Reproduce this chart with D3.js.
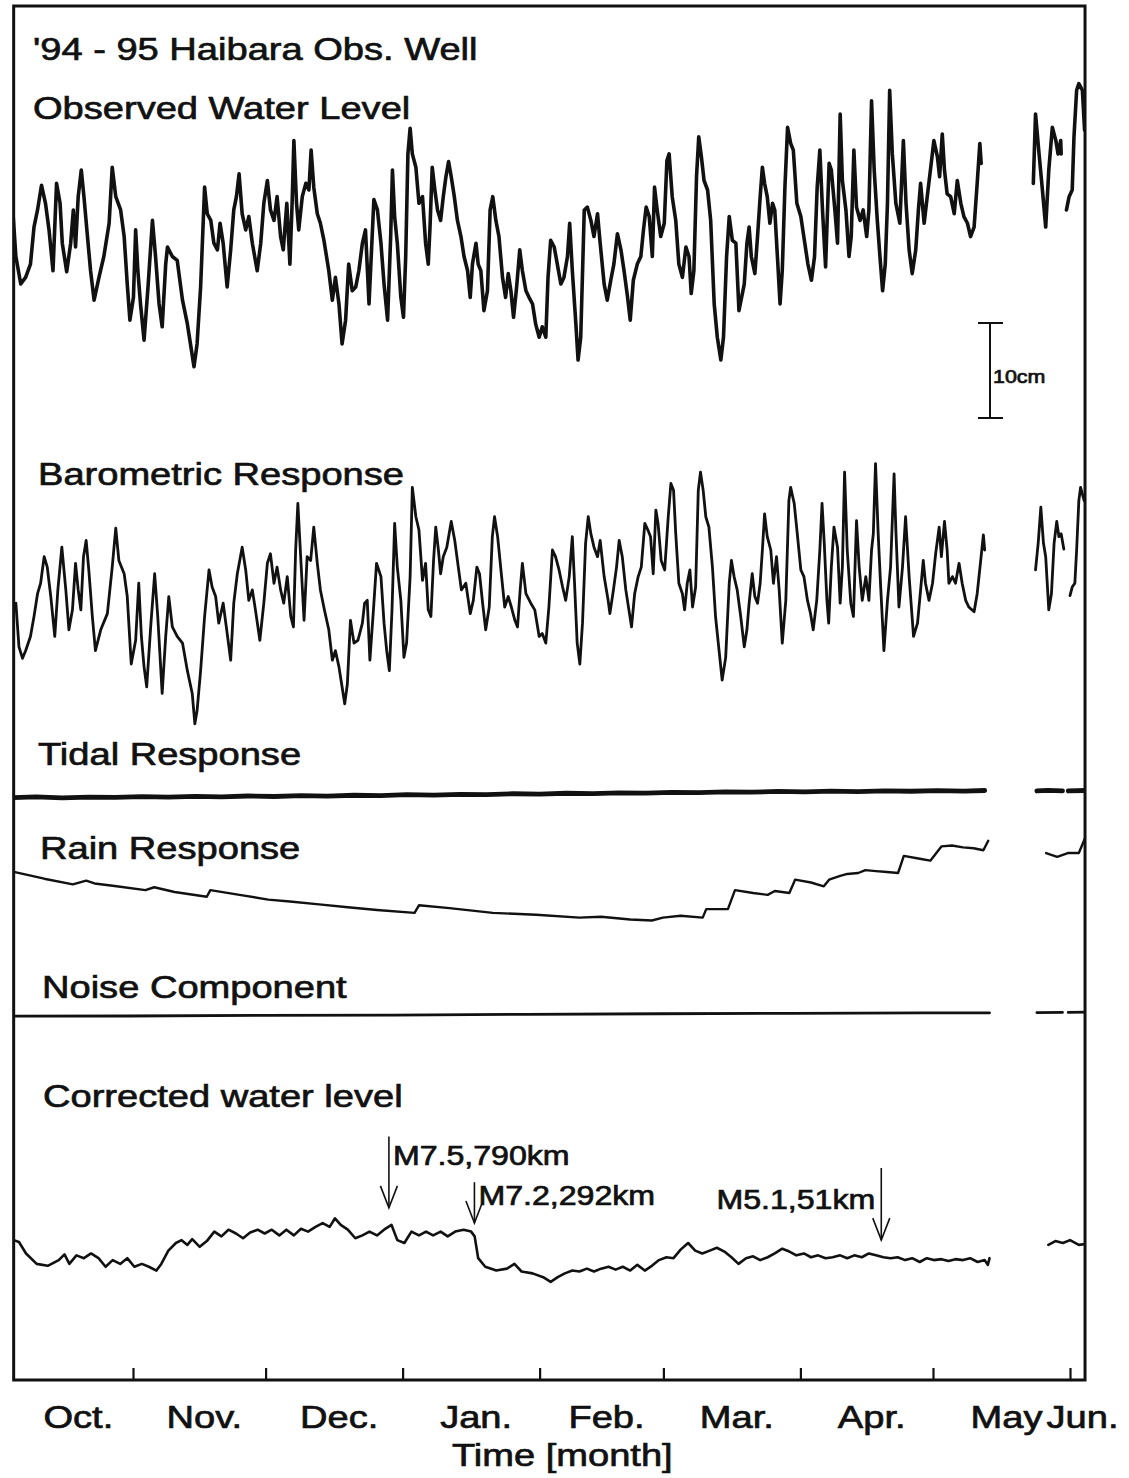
<!DOCTYPE html>
<meta charset="utf-8">
<head>
  <script src="https://d3js.org/d3.v7.min.js"></script>
  <style>
    body {
      margin: 0;
      background: #fff;
    }

    text {
      font-family: "Liberation Sans", Arial, Helvetica, sans-serif;
      fill: #111;
      stroke: #111;
      stroke-width: 0.7px;
    }

    .trace {
      fill: none;
      stroke: #111;
      stroke-linejoin: round;
      stroke-linecap: round;
    }
  </style>
</head>

<body>
  <script>
    // every series: [days after 1 Oct 1994, level in cm]; null = gap in the record
    var observed = [[3.7,18.6],[4.5,13.0],[5.6,10.1],[6.7,10.8],[7.8,12.2],[8.6,16.1],[9.4,17.9],[10.3,20.5],[11.2,18.6],[12.0,15.8],[12.9,11.5],[13.7,20.7],[14.5,18.6],[15.0,14.4],[16.0,11.4],[16.9,14.4],[17.5,17.9],[18.0,14.0],[18.6,19.3],[19.3,22.1],[19.9,19.3],[20.7,15.1],[21.4,11.5],[22.2,8.4],[23.3,10.8],[24.4,13.0],[25.6,16.5],[26.3,22.4],[27.1,19.3],[28.2,17.9],[29.0,15.1],[29.7,10.1],[30.3,6.3],[31.1,8.7],[31.6,15.8],[32.1,11.5],[32.7,8.0],[33.5,4.2],[34.4,9.8],[35.4,16.8],[36.1,13.0],[36.9,8.0],[37.6,5.6],[38.4,12.2],[38.8,14.0],[39.9,13.0],[41.0,12.6],[42.2,8.4],[43.3,5.9],[44.0,3.8],[44.8,1.4],[45.5,3.8],[46.3,9.8],[47.2,20.3],[47.8,17.5],[48.6,16.8],[49.3,14.4],[50.1,13.7],[50.7,16.5],[51.4,14.4],[52.3,9.8],[53.1,13.7],[53.8,17.9],[54.4,19.3],[55.0,21.7],[55.7,17.5],[56.5,15.8],[57.2,17.2],[58.0,14.4],[59.1,11.5],[59.9,14.4],[60.6,18.6],[61.4,21.0],[62.1,17.9],[62.9,16.8],[63.6,19.3],[64.4,15.1],[65.0,13.7],[65.8,18.6],[66.5,12.2],[67.0,18.6],[67.4,25.2],[68.0,18.6],[68.5,15.8],[69.3,19.3],[70.1,20.7],[70.8,20.0],[71.3,24.2],[71.9,20.3],[72.7,17.5],[73.4,16.5],[74.2,14.7],[75.3,11.5],[76.1,8.4],[76.8,10.8],[77.6,8.0],[78.3,3.8],[79.1,6.3],[79.8,12.2],[80.6,9.4],[81.4,9.8],[82.1,11.5],[82.9,14.4],[83.6,15.8],[84.4,8.0],[84.9,13.0],[85.5,19.0],
      [86.3,17.9],[87.1,14.4],[87.8,10.1],[88.6,6.3],[89.3,15.1],[89.7,22.1],[90.2,17.2],[90.8,14.4],[91.6,8.7],[92.2,6.6],[92.7,13.0],[93.2,23.8],[93.7,26.5],[94.2,23.8],[95.0,22.4],[95.7,18.6],[96.5,19.3],[97.2,14.4],[97.8,12.2],[98.2,16.1],[98.7,22.4],[99.3,20.0],[99.9,17.9],[100.6,16.8],[101.2,19.3],[101.8,21.4],[102.4,23.0],[103.0,21.4],[103.7,19.3],[104.4,16.8],[105.2,15.1],[105.9,13.0],[106.7,11.5],[107.3,8.7],[107.8,12.2],[108.6,14.4],[109.1,12.2],[109.7,11.5],[110.4,7.3],[111.2,9.4],[111.8,17.9],[112.4,19.3],[113.1,16.8],[113.8,15.1],[114.6,10.8],[115.3,8.7],[115.9,11.2],[116.5,9.4],[117.1,6.6],[117.8,9.8],[118.5,13.7],[119.1,11.5],[119.9,9.4],[120.6,8.7],[121.4,8.0],[122.1,5.9],[122.9,4.5],[123.6,5.6],[124.4,4.5],[124.9,10.8],[125.5,14.7],[126.3,14.0],[127.0,12.2],[127.8,10.1],[128.5,10.8],[129.3,13.0],[129.8,16.5],[130.4,11.5],[131.2,5.9],[131.7,2.1],[132.3,4.5],[133.1,17.9],[133.8,18.2],[134.6,16.8],[135.3,15.1],[136.1,17.5],[136.7,14.4],[137.6,10.1],[138.3,8.4],[139.1,10.5],[139.8,12.2],[140.6,15.4],[141.4,13.7],[142.1,11.5],[142.9,8.7],[143.5,6.3],[144.2,10.5],[145.1,12.2],[145.9,13.0],[146.5,15.8],[147.1,18.2],[147.8,17.2],[148.5,13.0],[149.0,20.3],[149.6,17.9],[150.4,15.1],[151.2,16.5],[151.8,23.1],[152.3,23.8],[153.0,19.3],[153.8,16.8],[154.5,12.2],[155.3,10.8],[156.1,14.0],[156.8,13.0],[157.3,9.1],[157.9,11.5],[158.5,21.4],[159.0,25.6],[159.6,23.5],[160.2,21.0],[161.0,20.0],[161.7,16.8],[162.5,8.0],[163.2,4.5],[164.0,2.1],[164.6,4.5],[165.3,13.0],[165.9,17.2],[166.6,14.7],[167.4,14.4],[168.1,7.3],
      [169.3,10.1],[169.9,14.4],[170.4,16.1],[170.9,13.0],[171.7,11.2],[172.3,15.1],[172.9,19.3],[173.4,22.4],[173.9,20.7],[174.5,19.3],[175.1,16.5],[175.7,18.6],[176.2,17.9],[176.8,13.0],[177.4,8.0],[177.9,11.5],[178.5,20.3],[179.1,26.6],[179.8,24.9],[180.4,24.2],[181.2,18.6],[182.1,17.2],[183.0,14.4],[183.7,12.2],[184.5,10.5],[185.2,13.0],[185.8,20.3],[186.4,24.2],[187.0,17.9],[187.7,11.9],[188.5,22.8],[189.0,22.1],[189.8,17.9],[190.4,14.4],[191.0,28.0],[191.5,21.0],[192.3,17.9],[193.0,13.0],[193.5,15.1],[194.1,24.2],[194.7,18.2],[195.5,16.8],[196.2,17.9],[197.0,15.1],[197.5,17.9],[198.1,29.4],[198.7,22.1],[199.4,16.8],[200.0,13.0],[200.6,9.4],[201.2,12.2],[201.7,18.6],[202.2,30.5],[202.8,23.8],[203.6,18.6],[204.5,16.5],[205.3,25.2],[205.9,18.6],[206.6,13.7],[207.3,11.2],[208.1,13.7],[208.7,17.9],[209.2,20.7],[210.0,16.5],[210.7,19.3],[211.6,22.8],[212.2,25.2],[213.0,23.5],[213.5,21.4],[214.1,25.9],[214.6,22.1],[215.2,19.6],[216.0,19.3],[216.8,17.5],[217.5,21.0],[218.3,18.6],[219.0,17.2],[219.8,16.5],[220.5,15.1],[221.3,16.1],[222.0,20.7],[222.6,24.9],[222.9,22.8], null,
      [234.7,20.7],[235.2,28.0],[236.0,23.8],[236.7,20.3],[237.5,16.1],[238.2,22.1],[239.0,26.6],[239.8,25.2],[240.3,23.8],[240.9,25.2],[241.0,23.8], null,
      [242.2,17.9],[242.8,19.3],[243.5,20.0],[243.9,25.6],[244.5,30.5],[245.0,31.2],[245.8,30.5],[246.3,26.3]];

    var barometric = [[4.5,14.4],[5.2,9.8],[6.0,8.6],[6.7,9.4],[7.8,10.9],[8.6,13.0],[9.4,15.4],[10.1,16.5],[10.9,19.3],[11.6,18.2],[12.4,15.1],[13.3,10.9],[14.0,15.8],[14.9,20.3],[15.8,15.8],[16.5,11.6],[17.3,13.7],[18.0,18.6],[18.6,15.8],[19.2,13.7],[19.8,19.3],[20.4,21.0],[21.0,17.9],[21.8,13.0],[22.5,9.4],[23.7,11.6],[25.2,13.3],[26.3,18.2],[27.1,22.3],[27.8,18.9],[29.0,17.5],[29.7,15.1],[30.6,8.0],[31.6,10.5],[32.3,16.5],[32.9,10.9],[33.5,7.7],[34.1,5.6],[35.0,11.9],[35.9,17.5],[36.6,13.0],[37.6,4.9],[38.4,10.9],[39.1,15.1],[39.9,11.9],[41.0,10.9],[42.2,10.2],[43.3,7.3],[44.4,4.9],[45.0,1.7],[45.5,3.1],[46.3,7.3],[47.2,13.0],[48.2,17.9],[48.9,16.1],[49.7,15.1],[50.4,12.3],[51.4,14.4],[52.2,11.6],[53.1,8.4],[53.8,14.4],[54.6,17.5],[55.7,20.3],[56.5,17.9],[57.2,14.7],[58.0,15.8],[58.7,13.7],[59.7,10.5],[60.6,14.4],[61.4,18.6],[62.1,19.6],[62.9,16.5],[63.6,18.2],[64.4,15.8],[65.1,14.4],[65.9,17.2],[66.7,13.0],[67.3,11.9],[67.8,20.0],[68.3,24.9],[68.9,19.6],[69.7,12.6],[70.4,19.3],[71.2,18.9],[71.9,22.4],[72.7,18.6],[73.4,15.8],[74.3,13.7],[75.3,11.6],[76.1,8.4],[76.8,9.4],[77.6,7.7],[78.3,5.6],[78.9,3.8],[79.5,5.9],[80.2,12.6],[81.0,10.2],[81.9,10.5],[82.9,12.3],[83.4,14.4],[84.0,14.7],[84.6,8.4],[85.4,13.7],[86.1,18.6],
      [87.1,17.2],[87.8,12.3],[88.4,9.4],[89.0,7.3],[89.6,13.7],[90.2,22.8],[90.8,18.2],[91.6,14.7],[92.3,8.7],[92.9,10.2],[93.7,17.2],[94.2,26.6],[95.0,23.5],[95.7,22.1],[96.5,16.8],[97.2,18.6],[97.8,13.7],[98.4,13.0],[99.0,18.9],[99.5,22.4],[100.1,20.0],[100.6,17.5],[101.2,19.3],[102.0,20.3],[103.0,23.0],[103.8,21.0],[104.6,18.2],[105.3,15.8],[106.3,16.5],[107.3,13.3],[108.0,14.7],[108.8,18.2],[109.4,17.5],[110.1,14.4],[110.8,11.6],[111.6,14.0],[112.3,21.4],[112.8,23.5],[113.5,21.4],[114.4,17.2],[115.1,14.0],[115.9,15.1],[116.6,14.0],[117.4,12.6],[118.0,11.9],[118.6,15.8],[119.1,18.6],[119.9,15.4],[121.0,14.4],[121.9,13.7],[122.9,10.9],[123.6,11.2],[124.4,10.2],[125.1,14.0],[125.9,20.0],[126.6,19.3],[127.4,17.9],[128.2,16.1],[128.9,14.7],[129.7,17.2],[130.4,21.4],[130.9,16.5],[131.5,10.2],[132.1,8.0],[132.7,12.3],[133.4,20.7],[134.0,23.5],[134.6,21.7],[135.3,20.3],[136.1,19.3],[136.7,21.0],[137.6,17.2],[138.5,14.7],[138.9,13.3],[139.7,15.8],[140.4,18.2],[141.0,21.0],[141.7,19.3],[142.5,15.8],[143.2,13.7],[143.8,11.9],[144.5,15.4],[145.3,17.2],[146.0,18.2],[146.8,22.8],[147.5,22.1],[148.1,21.4],[148.7,17.5],[149.3,24.2],[149.8,22.8],[150.5,18.9],[151.3,17.9],[152.1,23.5],[152.7,27.0],[153.3,26.3],[153.8,21.7],[154.5,16.5],[155.3,15.4],[155.8,13.7],[156.4,16.5],[157.0,17.9],[157.6,14.0],[158.3,16.1],[158.9,26.3],[159.4,28.2],[160.0,26.3],[160.6,23.5],[161.3,22.4],[162.1,18.2],[162.8,13.0],[163.6,9.4],[164.3,6.3],[165.1,8.7],[165.9,16.5],[166.4,18.9],[167.0,17.2],[167.7,15.8],[168.5,13.0],
      [169.3,9.8],[169.9,11.6],[170.4,14.4],[171.1,17.5],[171.7,15.1],[172.3,14.4],[172.9,16.5],[173.4,20.0],[173.9,23.8],[174.5,21.4],[175.3,20.0],[175.9,16.5],[176.6,19.3],[177.2,15.8],[177.9,10.2],[178.7,14.7],[179.4,25.2],[179.8,26.6],[180.6,24.9],[181.3,21.7],[182.1,17.9],[182.8,17.2],[183.6,14.7],[184.3,13.3],[184.9,11.6],[185.7,14.7],[186.4,20.0],[186.9,24.9],[187.4,20.7],[188.0,14.7],[188.4,12.3],[189.0,18.2],[189.6,22.4],[190.4,20.3],[191.0,14.4],[191.5,18.2],[192.0,28.2],[192.6,20.0],[193.4,14.4],[194.0,13.0],[194.7,23.1],[195.3,18.2],[196.0,14.7],[196.8,17.2],[197.5,14.7],[198.1,20.0],[198.5,21.7],[199.0,29.1],[199.6,21.7],[200.2,15.8],[200.9,9.4],[201.7,14.7],[202.4,18.2],[203.2,28.0],[203.6,22.1],[204.3,14.0],[205.1,18.2],[205.8,23.5],[206.6,17.2],[207.6,10.9],[208.5,12.3],[209.2,15.8],[209.8,18.9],[210.3,16.5],[211.1,14.7],[211.9,16.5],[212.6,19.6],[213.4,22.4],[213.9,19.3],[214.6,23.0],[215.2,20.0],[215.6,16.5],[216.4,17.2],[217.1,16.5],[217.9,18.6],[218.6,16.5],[219.4,14.7],[220.1,14.0],[221.3,13.5],[222.0,15.4],[222.8,18.9],[223.4,21.6],[223.7,20.0], null,
      [235.2,17.9],[235.8,20.7],[236.4,24.5],[237.0,20.7],[237.5,19.3],[238.2,13.7],[238.8,15.4],[239.4,20.7],[240.0,23.0],[240.5,21.4],[241.0,21.7],[241.6,20.1], null,
      [243.0,15.2],[243.5,16.1],[244.1,16.5],[244.5,20.0],[245.0,25.2],[245.4,26.6],[246.2,25.2],[246.6,25.6]];

    var tidal = [[4,0.25],[9,0.32],[15,0.22],[21,0.3],[27,0.27],[33,0.36],[39,0.3],[45,0.38],[51,0.33],[57,0.42],[63,0.37],[69,0.46],[75,0.41],[81,0.5],[87,0.46],[93,0.56],[99,0.52],[105,0.6],[111,0.57],[117,0.66],[123,0.62],[129,0.71],[135,0.67],[141,0.76],[147,0.72],[153,0.81],[159,0.77],[165,0.86],[171,0.82],[177,0.9],[183,0.86],[189,0.93],[195,0.89],[201,0.97],[207,0.92],[213,0.98],[219,0.94],[223.7,1.0], null,
      [235.5,0.95],[238,1.02],[241.3,0.96], null, [242.6,0.95],[246.6,1.0]];

    var rain = [[4.3,6.1],[10.9,5.4],[17.4,4.8],[20.4,5.2],[22.3,4.9],[27.3,4.6],[33.8,4.2],[35.8,4.5],[40.4,4.0],[47.7,3.5],[48.5,4.2],[55.1,3.7],[61.6,3.2],[66.5,3.0],[73.1,2.7],[79.6,2.4],[86.2,2.1],[94.7,1.8],[95.7,2.6],[102.6,2.3],[112.4,1.8],[122.2,1.6],[132.0,1.3],[136.9,1.4],[143.5,1.1],[148.4,1.0],[150.9,1.3],[154.9,1.5],[159.9,1.3],[160.7,2.2],[165.6,2.2],[167.2,4.2],[171.3,3.9],[174.6,3.7],[176.2,4.1],[179.5,3.9],[180.8,5.3],[184.4,5.0],[187.3,4.6],[188.5,5.3],[191.0,5.7],[192.6,5.9],[195.1,6.0],[196.7,6.3],[199.1,6.2],[201.6,6.1],[204.1,6.0],[205.4,7.8],[209.0,7.5],[211.4,7.3],[213.9,8.8],[216.3,8.9],[218.8,8.7],[221.2,8.6],[223.4,8.4],[224.5,9.4], null,
      [237.6,8.1],[240.1,7.7],[242.5,8.1],[245.0,8.1],[246.6,9.9]];

    var noise = [[4,0.4],[30,0.42],[60,0.48],[90,0.52],[120,0.6],[150,0.66],[180,0.7],[210,0.74],[224.8,0.76], null,
      [235.5,0.78],[241.3,0.8], null, [242.6,0.8],[246.6,0.82]];

    var corrected = [[4.0,6.3],[5.2,6.1],[6.8,4.9],[9.2,3.8],[11.7,3.6],[14.2,4.2],[15.5,4.8],[16.6,3.8],[18.2,4.7],[19.9,4.4],[21.5,4.9],[23.2,4.4],[24.8,3.5],[26.4,4.2],[28.1,3.8],[29.7,4.4],[31.3,3.5],[33.0,3.8],[34.6,3.5],[36.3,3.1],[37.4,3.8],[39.0,5.2],[40.7,6.0],[42.0,6.3],[43.3,5.8],[44.4,6.4],[46.1,5.6],[47.7,6.2],[49.4,7.2],[51.0,6.7],[52.6,7.4],[54.3,7.0],[55.9,6.5],[57.5,7.1],[59.2,7.4],[60.8,7.0],[62.4,7.4],[64.1,6.8],[65.7,7.4],[67.4,6.8],[69.0,7.5],[70.6,7.2],[72.3,7.7],[73.9,8.1],[75.5,7.7],[76.7,8.6],[78.0,7.9],[79.6,7.4],[81.3,6.5],[82.9,6.8],[84.5,7.2],[86.2,6.8],[87.8,7.4],[89.5,7.9],[90.8,6.3],[92.4,6.0],[94.0,7.2],[95.7,6.8],[97.3,7.2],[98.9,6.8],[100.6,7.2],[102.2,6.7],[103.9,7.2],[105.8,7.4],[107.5,7.2],[108.3,6.7],[109.1,4.4],[110.7,3.5],[113.2,3.1],[115.6,3.3],[117.3,3.8],[118.9,3.0],[121.4,2.8],[123.8,2.4],[125.5,1.9],[127.1,2.4],[128.7,2.8],[130.4,3.1],[132.0,3.0],[133.7,3.3],[135.3,3.0],[136.9,3.3],[138.6,3.5],[140.2,3.2],[141.8,3.5],[143.5,3.1],[145.1,3.7],[146.8,3.1],[148.4,3.6],[150.0,4.2],[151.7,4.5],[153.3,4.4],[154.9,5.3],[156.6,6.0],[158.2,5.2],[159.8,4.9],[161.5,5.2],[163.1,5.5],[164.8,5.1],[166.4,4.5],[168.0,3.8],[169.7,4.4],[171.3,4.6],[172.9,4.2],[174.6,4.5],[176.2,4.9],[177.9,5.4],[179.5,5.1],[181.1,4.7],[182.8,4.9],[184.4,4.5],[186.0,4.7],[187.7,4.4],[189.3,4.5],[191.0,4.7],[192.6,4.4],[194.2,4.7],[195.9,4.5],[197.5,4.9],[199.1,4.7],[200.8,4.5],[202.4,4.4],[204.0,4.5],[205.7,4.2],[207.3,4.4],[209.0,4.0],[210.6,4.4],[212.2,4.2],[213.9,4.3],[215.5,4.1],[217.1,4.3],[218.8,4.2],[220.4,4.4],[222.1,4.0],[223.7,4.2],[224.4,3.7],[224.8,4.4], null,
      [238.1,5.8],[239.7,6.2],[241.4,6.0],[243.0,6.3],[245.0,5.8],[246.5,5.9]];

    var panelNames = ["Observed Water Level", "Barometric Response", "Tidal Response", "Rain Response", "Noise Component", "Corrected water level"];
    var monthNames = ["Oct.", "Nov.", "Dec.", "Jan.", "Feb.", "Mar.", "Apr.", "May", "Jun."];
    var monthStarts = ["1994-10-01", "1994-11-01", "1994-12-01", "1995-01-01", "1995-02-01", "1995-03-01", "1995-04-01", "1995-05-01", "1995-06-01", "1995-07-01"];
    var eventDays = [88.9, 108.25, 200.3];
    var eventLabels = ["M7.5,790km", "M7.2,292km", "M5.1,51km"];
    var titleText = "'94 - 95 Haibara Obs. Well";
    var xTitle = "Time [month]";
    var scaleLabel = "10cm";

    var width = 1129, height = 1478;
    var stretch = 1.19;           // the scanned lettering is wider than Helvetica
    var frameTop = 6, frameBottom = 1380;
    var firstDay = 4, lastDay = 246.4;

    var parse = d3.timeParse("%Y-%m-%d");
    var day0 = new Date(1994, 9, 1);
    var toDate = function (d) { return new Date(day0.getTime() + d * 864e5); };

    var x = d3.scaleTime()
      .domain([new Date(1994, 10, 1), new Date(1995, 5, 1)])
      .range([133, 1070]);

    // one cm scale for every panel (10 cm = 95 px), each with its own zero
    var cm = function (base) { return d3.scaleLinear().domain([0, 10]).range([base, base - 95]); };
    var yObs = cm(380), yBaro = cm(740), yTide = cm(800), yRain = cm(930), yNoise = cm(1020), yCor = cm(1300);

    var svg = d3.select("body").append("svg")
      .attr("width", width)
      .attr("height", height);

    var left = x(toDate(firstDay)), right = x(toDate(lastDay));

    svg.append("clipPath").attr("id", "frame")
      .append("rect")
      .attr("x", left).attr("y", frameTop)
      .attr("width", right - left).attr("height", frameBottom - frameTop);

    function label(px, py, s, size, anchor) {
      return svg.append("text")
        .attr("transform", "translate(" + px + "," + py + ") scale(" + stretch + ",1)")
        .attr("font-size", size)
        .attr("text-anchor", anchor || "start")
        .text(s);
    }

    function trace(data, y, w) {
      var line = d3.line()
        .defined(function (d) { return d !== null; })
        .x(function (d) { return x(toDate(d[0])); })
        .y(function (d) { return y(d[1]); });
      svg.append("path")
        .datum(data)
        .attr("class", "trace")
        .attr("clip-path", "url(#frame)")
        .attr("stroke-width", w)
        .attr("d", line);
    }

    trace(observed, yObs, 3.6);
    trace(barometric, yBaro, 2.8);
    trace(tidal, yTide, 4.8);
    trace(rain, yRain, 2.4);
    trace(noise, yNoise, 2.8);
    trace(corrected, yCor, 2.6);

    // frame
    svg.append("rect")
      .attr("x", left).attr("y", frameTop)
      .attr("width", right - left).attr("height", frameBottom - frameTop)
      .attr("fill", "none").attr("stroke", "#111").attr("stroke-width", 3);

    // month ticks, drawn inward from the bottom edge
    var axis = d3.axisBottom(x)
      .tickValues(monthStarts.slice(1, 9).map(parse))
      .tickSize(-12)
      .tickFormat("");
    var ax = svg.append("g")
      .attr("transform", "translate(0," + frameBottom + ")")
      .call(axis);
    ax.select(".domain").remove();
    ax.selectAll(".tick line").attr("stroke", "#111").attr("stroke-width", 2.2);

    // month names sit in the middle of the part of each month that is shown
    monthNames.forEach(function (m, i) {
      var a = Math.max(x(parse(monthStarts[i])), left);
      var b = Math.min(x(parse(monthStarts[i + 1])), right);
      label((a + b) / 2 + 5, 1428, m, 32, "middle");
    });
    label((left + right) / 2 + 13, 1466, xTitle, 32, "middle");

    // panel titles
    label(33, 60, titleText, 32);
    var nameX = [33, 38, 38, 40, 42, 43];
    var nameY = [119, 485, 765, 859, 998, 1107];
    panelNames.forEach(function (s, i) { label(nameX[i], nameY[i], s, 32); });

    // 10 cm scale bar on the observed panel
    var bx = 990;
    svg.append("line").attr("x1", bx).attr("x2", bx).attr("y1", yObs(6)).attr("y2", yObs(-4))
      .attr("stroke", "#111").attr("stroke-width", 2);
    [6, -4].forEach(function (v) {
      svg.append("line").attr("x1", bx - 12).attr("x2", bx + 13).attr("y1", yObs(v)).attr("y2", yObs(v))
        .attr("stroke", "#111").attr("stroke-width", 2);
    });
    label(bx + 3, 383, scaleLabel, 18);

    // earthquake arrows on the corrected level
    var arrowTop = [17.2, 12.4, 13.9], arrowTip = [9.7, 8.1, 6.3];
    var textY = [1165, 1205, 1209];
    eventDays.forEach(function (d, i) {
      var ex = x(toDate(d)), y1 = yCor(arrowTop[i]), y2 = yCor(arrowTip[i]);
      var g = svg.append("g").attr("stroke", "#111").attr("stroke-width", 1.6).attr("fill", "none");
      g.append("line").attr("x1", ex).attr("x2", ex).attr("y1", y1).attr("y2", y2);
      g.append("path").attr("d", "M" + (ex - 8.5) + "," + (y2 - 22) + "L" + ex + "," + y2 + "L" + (ex + 8.5) + "," + (y2 - 22));
      if (i < 2) label(ex + 4, textY[i], eventLabels[i], 27);
      else label(ex - 6, textY[i], eventLabels[i], 27, "end");
    });
  </script>
</body>

</html>
